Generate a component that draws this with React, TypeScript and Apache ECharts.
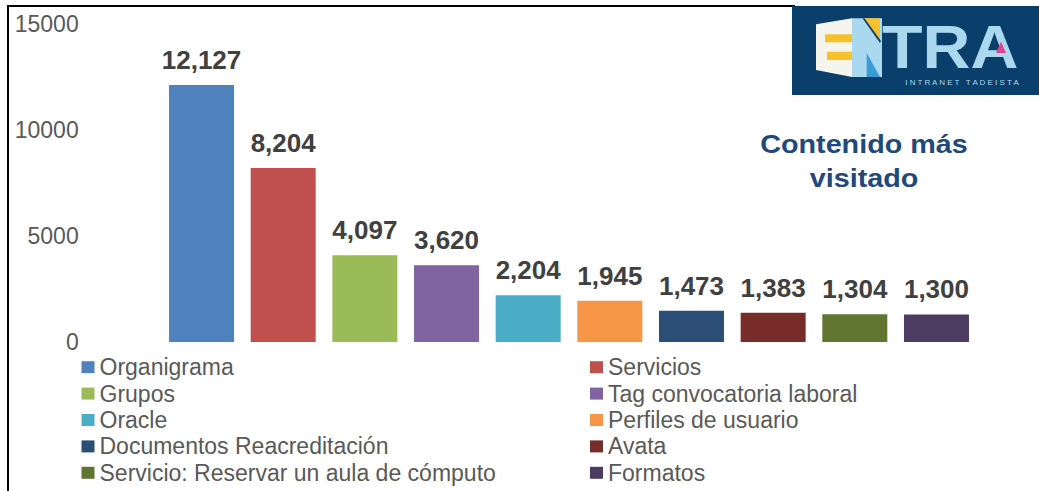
import React, { useEffect, useRef } from "react";
import * as echarts from "echarts";

const categories = [
  "Organigrama",
  "Servicios",
  "Grupos",
  "Tag convocatoria laboral",
  "Oracle",
  "Perfiles de usuario",
  "Documentos Reacreditación",
  "Avata",
  "Servicio: Reservar un aula de cómputo",
  "Formatos",
];
const visits = [12127, 8204, 4097, 3620, 2204, 1945, 1473, 1383, 1304, 1300];
const colors = [
  "#4F81BD",
  "#C0504D",
  "#9BBB59",
  "#8064A2",
  "#4BACC6",
  "#F79646",
  "#2C4D75",
  "#772C2A",
  "#5F7530",
  "#4D3B62",
];
const yTicks = { min: 0, max: 15000, interval: 5000 };
const titleText = "Contenido más\nvisitado";
const logoWord = "TRA";
const logoSub = "I N T R A N E T   T A D E I S T A";

const FONT = '"Liberation Sans", Arial, sans-serif';

export default function App() {
  const ref = useRef<HTMLDivElement>(null);

  useEffect(() => {
    if (!ref.current) return;
    const chart = echarts.init(ref.current, null, { renderer: "svg" });

    const series = categories.map((name, i) => ({
      name,
      type: "bar",
      stack: "all",
      barWidth: 65,
      itemStyle: { color: colors[i] },
      data: visits.map((v, j) => (j === i ? v : "-")),
      label: {
        show: true,
        position: "top",
        distance: 12,
        formatter: (p: any) => Number(p.value).toLocaleString("en-US"),
        color: "#404040",
        fontWeight: "bold",
        fontSize: 26,
        fontFamily: FONT,
      },
    }));

    const col1 = categories.filter((_, i) => i % 2 === 0);
    const col2 = categories.filter((_, i) => i % 2 === 1);
    const legendBase = {
      orient: "vertical",
      top: 349,
      height: 200,
      itemWidth: 13,
      itemHeight: 12,
      itemGap: 0,
      icon: "rect",
      textStyle: {
        color: "#595959",
        fontSize: 23,
        fontFamily: FONT,
        lineHeight: 26.4,
      },
    };

    chart.setOption({
      animation: false,
      backgroundColor: "#ffffff",
      grid: { left: 160.7, right: 61.7, top: 24, bottom: 149 },
      xAxis: {
        type: "category",
        data: categories,
        axisLine: { show: false },
        axisTick: { show: false },
        axisLabel: { show: false },
        splitLine: { show: false },
      },
      yAxis: {
        type: "value",
        min: yTicks.min,
        max: yTicks.max,
        interval: yTicks.interval,
        axisLine: { show: false },
        axisTick: { show: false },
        splitLine: { show: false },
        axisLabel: {
          color: "#595959",
          fontSize: 23,
          fontFamily: FONT,
          margin: 82,
          formatter: (v: number) => String(v),
        },
      },
      legend: [
        { ...legendBase, left: 76.5, data: col1 },
        { ...legendBase, left: 585, data: col2 },
      ],
      series,
      graphic: [
        // frame lines
        {
          type: "line",
          shape: { x1: 8, y1: 6, x2: 795, y2: 6 },
          style: { stroke: "#000", lineWidth: 2 },
        },
        {
          type: "line",
          shape: { x1: 8, y1: 5, x2: 8, y2: 491 },
          style: { stroke: "#000", lineWidth: 2 },
        },
        // title
        {
          type: "text",
          x: 864,
          y: 162,
          scaleX: 1.15,
          style: {
            text: titleText,
            font: `bold 25px ${FONT}`,
            fill: "#1F497D",
            textAlign: "center",
            textVerticalAlign: "middle",
            lineHeight: 34,
          },
        },
        // logo
        {
          type: "rect",
          shape: { x: 792, y: 6, width: 247, height: 89 },
          style: { fill: "#0B3F6B" },
        },
        {
          type: "polygon",
          shape: { points: [[816, 24.3], [852, 18.3], [852, 77], [816, 70]] },
          style: { fill: "#F5F5EE" },
        },
        {
          type: "rect",
          shape: { x: 825, y: 34.3, width: 27, height: 8 },
          style: { fill: "#F7C12C" },
        },
        {
          type: "rect",
          shape: { x: 827, y: 51.7, width: 25, height: 8.3 },
          style: { fill: "#F7C12C" },
        },
        {
          type: "polygon",
          shape: { points: [[852, 18.3], [882, 18.3], [882, 77], [852, 77]] },
          style: { fill: "#A9D8EF" },
        },
        {
          type: "polygon",
          shape: { points: [[862.7, 18.3], [880, 18.3], [880, 41.7]] },
          style: { fill: "#F7C12C" },
        },
        {
          type: "polygon",
          shape: { points: [[862.5, 18.3], [864.5, 18.3], [881, 41], [880, 43]] },
          style: { fill: "#0B3F6B" },
        },
        {
          type: "polygon",
          shape: { points: [[866.7, 53], [866.7, 77], [880, 77]] },
          style: { fill: "#3A9AD6" },
        },
        {
          type: "text",
          x: 882,
          y: 46.5,
          scaleX: 1.07,
          style: {
            text: logoWord,
            font: `bold 62px ${FONT}`,
            fill: "#A9D8EF",
            textAlign: "left",
            textVerticalAlign: "middle",
          },
        },
        {
          type: "polygon",
          shape: { points: [[1001, 41.5], [996, 53], [1006, 53]] },
          style: { fill: "#E0458F" },
          z: 200,
        },
        {
          type: "text",
          x: 962,
          y: 82.5,
          style: {
            text: logoSub,
            font: `8px ${FONT}`,
            fill: "#A9D8EF",
            textAlign: "center",
            textVerticalAlign: "middle",
          },
        },
      ],
    });

    return () => chart.dispose();
  }, []);

  return (
    <div
      ref={ref}
      style={{ position: "absolute", left: 0, top: 0, width: 1039, height: 491, background: "#fff" }}
    />
  );
}
